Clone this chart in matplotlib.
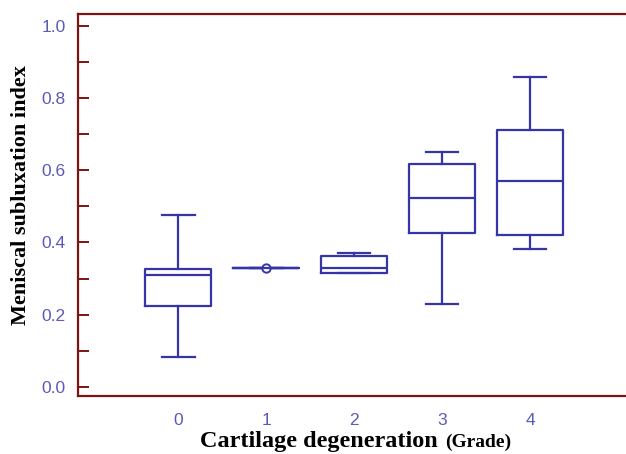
import matplotlib.pyplot as plt
from matplotlib.ticker import MultipleLocator

# valores (por grado de degeneracion)
grades = [0, 1, 2, 3, 4]
whislo = [0.083, 0.329, 0.315, 0.229, 0.381]
q1 = [0.224, 0.329, 0.315, 0.425, 0.420]
med = [0.309, 0.329, 0.329, 0.522, 0.569]
q3 = [0.326, 0.329, 0.362, 0.616, 0.710]
whishi = [0.475, 0.329, 0.370, 0.649, 0.859]
fliers = [[], [0.329], [], [], []]

blue = '#3535a8'
maroon = '#7d1414'
tick_blue = '#5a5ab8'

stats = []
for i in range(len(grades)):
    stats.append({'whislo': whislo[i], 'q1': q1[i], 'med': med[i], 'q3': q3[i],
                  'whishi': whishi[i], 'fliers': fliers[i], 'label': str(grades[i])})

fig = plt.figure(figsize=(6.26, 4.54), dpi=100)
ax = fig.add_axes([0.1246, 0.1278, 0.8754, 0.8414])

ax.bxp(stats, positions=grades, widths=0.75, showfliers=True,
       boxprops=dict(color=blue, linewidth=1.6),
       medianprops=dict(color=blue, linewidth=1.6),
       whiskerprops=dict(color=blue, linewidth=1.6),
       capprops=dict(color=blue, linewidth=1.6),
       capwidths=0.37,
       flierprops=dict(marker='o', markerfacecolor='white', markeredgecolor=blue,
                       markersize=6, markeredgewidth=1.4))

ax.set_xlim(-1.14, 5.09)
ax.set_ylim(-0.025, 1.032)

ax.yaxis.set_major_locator(MultipleLocator(0.2))
ax.yaxis.set_minor_locator(MultipleLocator(0.1))
ax.set_yticklabels([f'{v:.1f}' for v in ax.get_yticks()])
ax.tick_params(axis='y', which='both', direction='in', length=8, width=1.4,
               color=maroon, labelcolor=tick_blue, labelsize=12.5, pad=9)
ax.tick_params(axis='x', length=0, labelcolor=tick_blue, labelsize=12.5, pad=12)
for lbl in ax.get_xticklabels() + ax.get_yticklabels():
    lbl.set_family('Liberation Sans')

for s in ['left', 'top', 'bottom']:
    ax.spines[s].set_color(maroon)
    ax.spines[s].set_linewidth(1.6)
ax.spines['right'].set_visible(False)

ax.set_ylabel('Meniscal subluxation index', family='Liberation Serif',
              fontweight='bold', fontsize=16)
ax.yaxis.set_label_coords(-0.086, 0.526)

# etiqueta x en dos partes: "(Grade)" va mas pequeno
fig.text(0.6997, 0.0154, 'Cartilage degeneration', family='Liberation Serif',
         fontweight='bold', fontsize=17.5, ha='right', va='baseline')
fig.text(0.711, 0.0154, '(Grade)', family='Liberation Serif',
         fontweight='bold', fontsize=14, ha='left', va='baseline')

fig.savefig('out.png', dpi=100)
